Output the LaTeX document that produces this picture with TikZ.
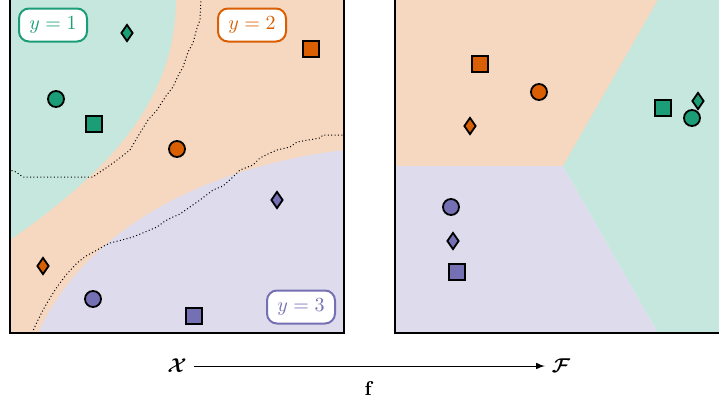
\documentclass[tikz,border=0pt]{standalone}
\usepackage{amsmath,amssymb}
\usetikzlibrary{shapes.geometric}
\definecolor{clsA}{HTML}{1B9E77}
\definecolor{clsB}{HTML}{D95F02}
\definecolor{clsC}{HTML}{7570B3}
\begin{document}
\begin{tikzpicture}[x=0.5pt, y=-0.5pt, >=latex,
    circ/.style={circle, draw=black, fill=#1, line width=0.9pt, minimum size=8pt, inner sep=0pt},
    sqr/.style={rectangle, draw=black, fill=#1, line width=0.9pt, minimum size=8pt, inner sep=0pt},
    dmd/.style={diamond, draw=black, fill=#1, line width=0.9pt, minimum width=6pt, minimum height=8.5pt, inner sep=0pt},
    tag/.style={draw=#1, text=#1, fill=white, rounded corners=5pt, line width=1pt, minimum width=34pt, minimum height=16.5pt, inner sep=2pt},
    frame/.style={draw=black, line width=0.7pt},
    bnd/.style={black, line width=0.5pt, dash pattern=on 0.5pt off 1.2pt}]
    \clip (0,0) rectangle (719,397);
    % input space
    \fill[clsB!25] (10,-2) rectangle (344,333);
    \fill[clsA!25] (10,-2) -- (176,-2) .. controls (176,100) and (110,170) .. (10,240) -- cycle;
    \fill[clsC!25] (38,333) .. controls (90,220) and (220,165) .. (344,150) -- (344,333) -- cycle;
    \draw[bnd] (201,-2) -- (200,20) -- (197,28) -- (193,43) -- (188,52) -- (183,67) -- (178,76) -- (173,87)
        -- (166,96) -- (157,110) -- (148,120) -- (140,133) -- (134,143) -- (130,150) -- (121,157)
        -- (113,163) -- (106,168) -- (100,172) -- (93,177) -- (23,177) -- (16,172) -- (10,170);
    \draw[bnd] (32,333) -- (37,322) -- (43,310) -- (50,298) -- (57,287) -- (66,275) -- (77,263) -- (86,256)
        -- (97,250) -- (104,246) -- (110,243) -- (122,240) -- (133,237) -- (145,232) -- (157,227)
        -- (165,221) -- (173,217) -- (180,214) -- (190,207) -- (200,200) -- (213,190) -- (223,186)
        -- (233,177) -- (240,170) -- (253,165) -- (260,158) -- (270,153) -- (277,150) -- (290,147)
        -- (297,142) -- (320,138) -- (323,135) -- (344,135);
    \draw[frame] (10,-2) rectangle (344,333);
    \node[tag=clsA] (tA) at (53,25) {$y=1$};
    \node[tag=clsB] (tB) at (252,25) {$y=2$};
    \node[tag=clsC] (tC) at (301,307) {$y=3$};
    \node[dmd=clsA] (xA1) at (127,33) {};
    \node[circ=clsA] (xA2) at (56,99) {};
    \node[sqr=clsA] (xA3) at (94,124) {};
    \node[sqr=clsB] (xB1) at (311,49) {};
    \node[circ=clsB] (xB2) at (177,149) {};
    \node[dmd=clsB] (xB3) at (43,266) {};
    \node[dmd=clsC] (xC1) at (277,200) {};
    \node[circ=clsC] (xC2) at (93,299) {};
    \node[sqr=clsC] (xC3) at (194,316) {};
    % feature space
    \fill[clsB!25] (395,-2) rectangle (729,166);
    \fill[clsC!25] (395,166) -- (563,166) -- (658,333) -- (395,333) -- cycle;
    \fill[clsA!25] (563,166) -- (659,-2) -- (729,-2) -- (729,333) -- (658,333) -- cycle;
    \draw[frame] (395,-2) rectangle (729,333);
    \node[sqr=clsB] (fB1) at (480,64) {};
    \node[circ=clsB] (fB2) at (539,92) {};
    \node[dmd=clsB] (fB3) at (470,126) {};
    \node[sqr=clsA] (fA1) at (663,108) {};
    \node[dmd=clsA] (fA2) at (698,101) {};
    \node[circ=clsA] (fA3) at (692,118) {};
    \node[circ=clsC] (fC1) at (451,207) {};
    \node[dmd=clsC] (fC2) at (453,241) {};
    \node[sqr=clsC] (fC3) at (457,272) {};
    % mapping
    \node (X) at (177,366) {$\boldsymbol{\mathcal{X}}$};
    \node (F) at (561,366) {$\boldsymbol{\mathcal{F}}$};
    \draw[->, line width=0.5pt] (X) -- (F) node[midway, below=4pt] (f) {$\mathbf{f}$};
\end{tikzpicture}
\end{document}
